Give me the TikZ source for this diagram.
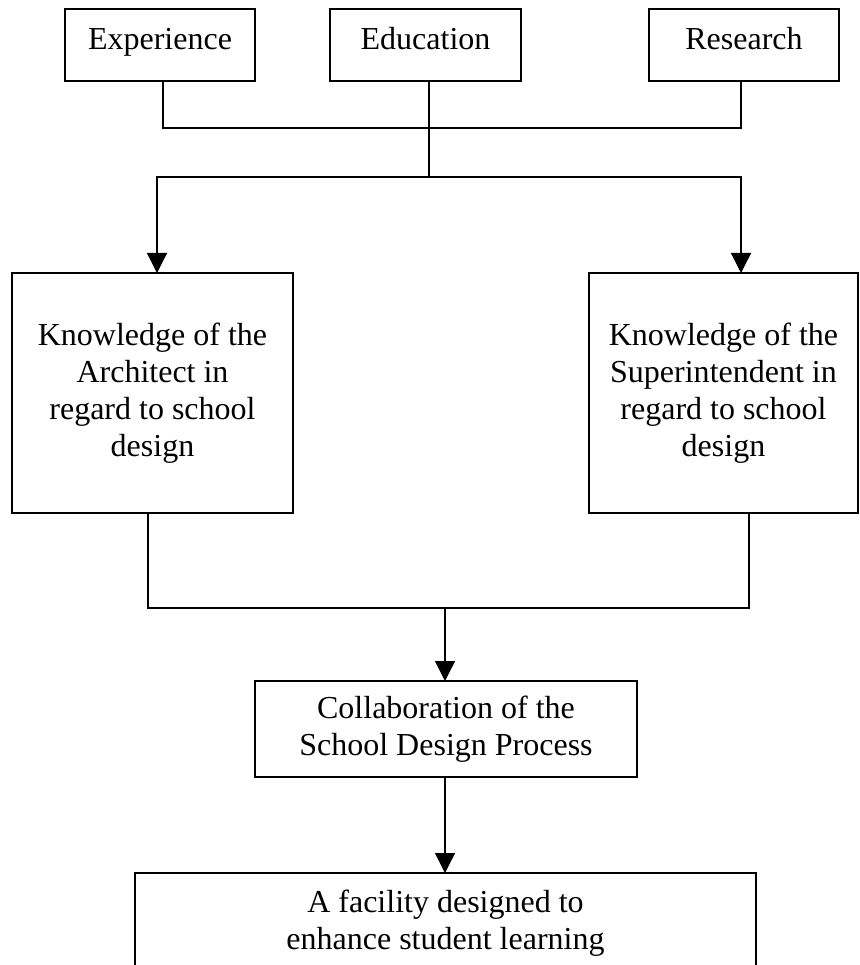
\documentclass[tikz,border=0pt]{standalone}
\usepackage{fontspec}
\setmainfont{Liberation Serif}
\usetikzlibrary{arrows.meta}
\begin{document}
\begin{tikzpicture}[x=1pt,y=-1pt,
  box/.style={draw,line width=1.8pt,inner sep=0pt,outer sep=0pt,align=center,
    font=\fontsize{32}{37}\selectfont},
  topbox/.style={box,minimum height=72pt,text height=22pt,text depth=12pt},
  conn/.style={line width=1.3pt},
  arr/.style={line width=1.3pt,-{Triangle[length=20pt,width=20pt]}}]
\clip (0,0) rectangle (859,965);
\fill[white] (0,0) rectangle (859,965);
% top row
\node[topbox,minimum width=190pt] (exp) at (160,45) {Experience};
\node[topbox,minimum width=191pt] (edu) at (425.5,45) {Education};
\node[topbox,minimum width=190pt] (res) at (744,45) {Research};
% knowledge boxes
\node[box,minimum width=281pt,minimum height=240pt] (kl) at (152.5,393)
  {Knowledge of the\\Architect in\\regard to school\\design};
\node[box,minimum width=269pt,minimum height=240pt] (kr) at (723.5,393)
  {Knowledge of the\\Superintendent in\\regard to school\\design};
% collaboration
\node[box,minimum width=382pt,minimum height=96pt] (col) at (446,729)
  {Collaboration of the\\School Design Process};
% final
\node[box,minimum width=621pt,minimum height=100pt] (fin) at (445.5,923)
  {A facility designed to\\enhance student learning};
% connectors
\coordinate (h2) at (429,177);
\coordinate (h3) at (445,608);
\draw[conn] ([xshift=3pt]exp.south) -- ++(0,47) -| ([xshift=-3pt]res.south);
\draw[conn] ([xshift=3.5pt]edu.south) -- (h2);
\draw[arr] (h2) -| ([xshift=4.5pt]kl.north);
\draw[arr] (h2) -| ([xshift=17.5pt]kr.north);
\draw[conn] ([xshift=-4.5pt]kl.south) |- (h3);
\draw[conn] ([xshift=25.5pt]kr.south) |- (h3);
\draw[arr] (h3) -- (col.north -| h3);
\draw[arr] (col.south -| h3) -- (fin.north -| h3);
\end{tikzpicture}
\end{document}
